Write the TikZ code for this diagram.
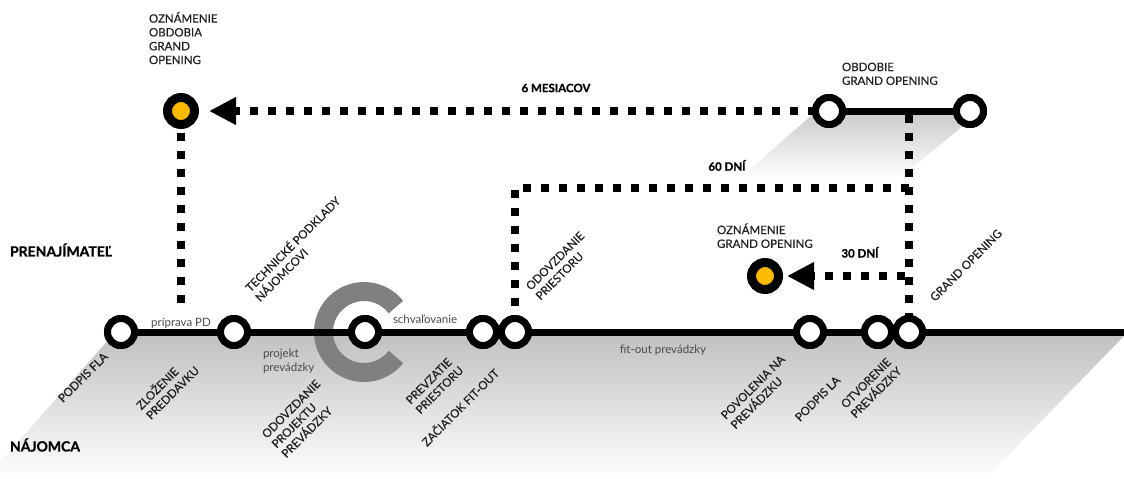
\documentclass[tikz,border=0pt]{standalone}
\usepackage{fontspec}
\setmainfont{Lato}
\newfontfamily\medf{Lato}[FakeBold=0.35]
\newfontfamily\heavyf{Lato}[FakeBold=0.9]
\usetikzlibrary{arrows.meta}
\definecolor{gold}{HTML}{FBBA00}
\definecolor{cgray}{HTML}{808080}
\definecolor{txtgray}{HTML}{4A4A4A}
\begin{document}
\begin{tikzpicture}[x=1pt,y=-1pt,
  every node/.style={inner sep=0pt, outer sep=0pt},
  lbl/.style={font=\medf\fontsize{11.5}{13.8}\selectfont, text=black!88, align=left},
  bld/.style={font=\heavyf\bfseries\fontsize{11.5}{13.6}\selectfont, text=black},
  side/.style={font=\heavyf\bfseries\fontsize{14}{16}\selectfont, text=black},
  lower/.style={font=\fontsize{11.5}{13.2}\selectfont, text=txtgray, align=left},
  rl/.style={lbl, rotate=45, anchor=north west},
  rs/.style={lbl, rotate=45, anchor=base west},
  ms/.style={circle, draw=black, line width=7pt, fill=white, minimum size=27pt},
  yel/.style={circle, fill=gold, draw=black, line width=9pt, minimum size=27pt},
  dotline/.style={line width=8pt, dash pattern=on 8pt off 10pt},
  tip/.style={-{Triangle[length=27pt,width=26pt]}},
]
\useasboundingbox (0,0) rectangle (1124,479);
% shaded planes
\shade[top color=black!24, bottom color=white] (112,336) -- (1124,336) -- (985,479) -- (-15,479) -- cycle;
\shade[top color=black!20, bottom color=white] (812,115) -- (976,115) -- (900,178) -- (740,178) -- cycle;
% gray C
\coordinate (cc) at (364,332);
\draw[cgray, line width=19pt] ([shift={(38:40.5)}]cc) arc[start angle=38, end angle=322, radius=40.5];
% stations
\node[ms] (m1) at (121,332) {};
\node[ms] (m2) at (234,332) {};
\node[ms] (m3) at (365,332) {};
\node[ms] (m4) at (483,332) {};
\node[ms] (m5) at (515,332) {};
\node[ms] (m6) at (810,332) {};
\node[ms] (m7) at (878,332) {};
\node[ms] (m8) at (909,332) {};
\node[ms] (t1) at (829,111) {};
\node[ms] (t2) at (970,111) {};
\node[yel] (y1) at (181,111) {};
\node[yel] (y2) at (765,276) {};
% lines
\coordinate (mend) at (1124,332);
\draw[line width=7pt] (m1.center) -- (mend);
\draw[line width=7pt] (t1.center) -- (t2.center);
% station rings on top of the lines
\foreach \n in {m1,m2,m3,m4,m5,m6,m7,m8,t1,t2}
  \draw[line width=7pt, fill=white] (\n.center) circle[radius=13.5];
% dotted connectors
\coordinate (tj) at (909,111);
\coordinate (c60a) at (909,188);
\coordinate (c60b) at (515,188);
\coordinate (c30) at (905,276);
\coordinate (pd) at (181,303);
\draw[dotline, tip, shorten >=14.5pt] (t1.west) -- (y1.east);
\draw[dotline, shorten <=8pt] (y1.south) -- (pd);
\draw[dotline, shorten <=4pt] (tj) -- (m8.north);
\draw[dotline] (c60a) -- (c60b) -- (m5.north);
\draw[dotline, tip, shorten >=8.5pt] (c30) -- (y2.east);
% side labels
\node[side, anchor=west] (pren) at (10,250) {PRENAJÍMATEĽ};
\node[side, anchor=west] (najo) at (10,445) {NÁJOMCA};
% top labels
\node[lbl, anchor=north west] (l1) at (149,12) {OZNÁMENIE\\OBDOBIA\\GRAND\\OPENING};
\node[lbl, anchor=north west] (l2) at (842,62.7) {OBDOBIE\\GRAND OPENING};
\node[lbl, anchor=north west] (l3) at (717,223.4) {OZNÁMENIE\\GRAND OPENING};
\node[bld, anchor=center] (d6) at (556,88) {6 MESIACOV};
\node[bld, anchor=base] (d60) at (727,170.7) {60 DNÍ};
\node[bld, anchor=base] (d30) at (860,257.5) {30 DNÍ};
% lowercase
\node[lower, anchor=base] (pp) at (181,326) {príprava PD};
\node[lower, anchor=north west] (pj) at (263,349.5) {projekt\\prevádzky};
\node[lower, anchor=base west] (sch) at (393,323) {schvaľovanie};
\node[lower, anchor=base] (fo) at (663,353) {fit-out prevádzky};
% rotated labels
\node[rs] (r1) at (63,403) {PODPIS FLA};
\node[rl] (r2) at (134,403) {ZLOŽENIE\\PREDDAVKU};
\node[rl] (r3) at (261,433) {ODOVZDANIE\\PROJEKTU\\PREVÁDZKY};
\node[rl] (r4) at (405,399) {PREVZATIE\\PRIESTORU};
\node[rs] (r5) at (427,447) {ZAČIATOK FIT-OUT};
\node[rl] (r6) at (720,414) {POVOLENIA NA\\PREVÁDZKU};
\node[rs] (r7) at (800,422) {PODPIS LA};
\node[rl] (r8) at (840,403) {OTVORENIE\\PREVÁDZKY};
\node[rl] (r9) at (243,285) {TECHNICKÉ PODKLADY\\NÁJOMCOVI};
\node[rl] (r10) at (525,285) {ODOVZDANIE\\PRIESTORU};
\node[rs] (r11) at (935,302) {GRAND OPENING};
\end{tikzpicture}
\end{document}
